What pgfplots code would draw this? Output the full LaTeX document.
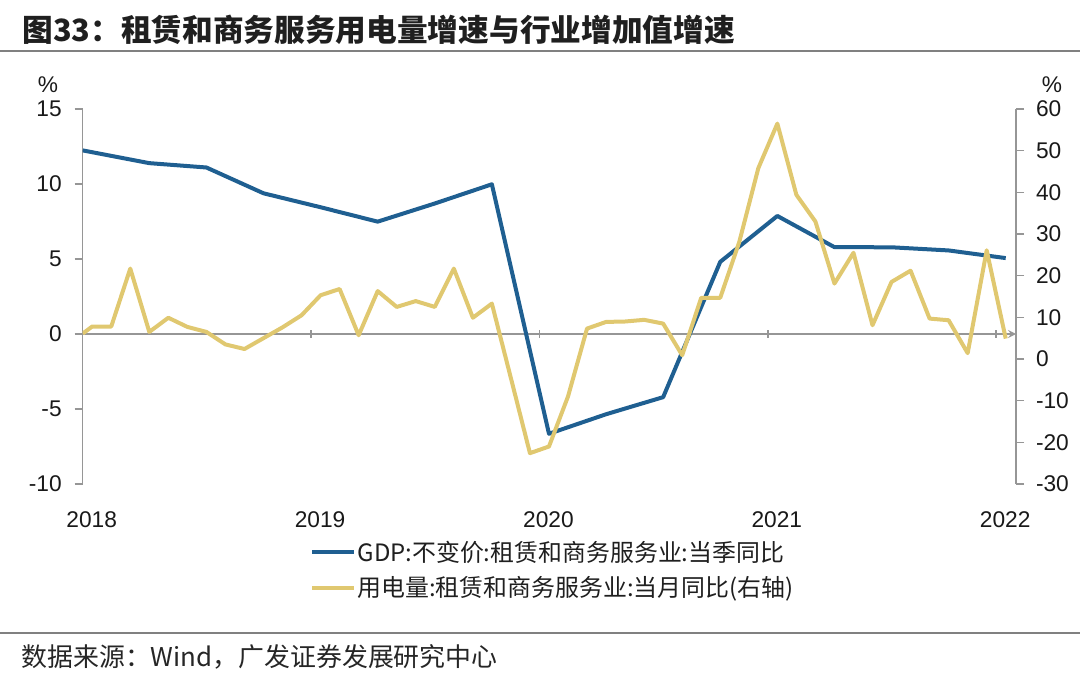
\documentclass[border=0pt]{standalone}
\usepackage{fontspec}
\setmainfont{Liberation Sans}
\newfontfamily\cjk{Noto Sans CJK SC}
\usepackage{pgfplots}
\pgfplotsset{compat=1.18}

\definecolor{gdpblue}{RGB}{31,95,145}
\definecolor{elecyel}{RGB}{224,200,112}
\definecolor{axgray}{RGB}{150,150,150}
\definecolor{rulegray}{RGB}{128,128,128}

% GDP, quarterly (months from Jan 2018)
\pgfplotstableread{
m v
0 12.24
3.5 11.39
6.5 11.10
9.5 9.38
12.5 8.45
15.5 7.49
18.5 8.70
21.5 9.98
24.5 -6.65
27.5 -5.35
30.5 -4.21
33.5 4.81
36.5 7.87
39.5 5.79
42.5 5.78
45.5 5.57
48.5 5.06
}\gdp

% electricity use, monthly
\pgfplotstableread{
m v
0 6.1
0.5 7.8
1.5 7.8
2.5 21.7
3.5 6.5
4.5 9.9
5.5 7.7
6.5 6.5
7.5 3.5
8.5 2.4
9.5 5.0
10.5 7.6
11.5 10.5
12.5 15.3
13.5 16.8
14.5 5.7
15.5 16.3
16.5 12.5
17.5 13.9
18.5 12.5
19.5 21.7
20.5 9.9
21.5 13.3
22.5 -4.6
23.5 -22.6
24.5 -21.0
25.5 -9.0
26.5 7.3
27.5 8.9
28.5 9.0
29.5 9.4
30.5 8.5
31.5 0.9
32.5 14.7
33.5 14.7
34.5 28.1
35.5 45.8
36.5 56.5
37.5 39.4
38.5 33.0
39.5 18.1
40.5 25.5
41.5 8.1
42.5 18.5
43.5 21.2
44.5 9.7
45.5 9.3
46.5 1.4
47.5 26.1
48.5 4.9
}\elec

\pgfplotsset{
  base/.style={
    scale only axis, width=466.65bp, height=187.5bp,
    at={(41.35bp,97bp)}, anchor=south west,
    xmin=0, xmax=49.04,
    xtick={0,12,24,36,48},
    axis line style={axgray, line width=0.75bp},
    every inner x axis line/.append style={-},
    every outer y axis line/.append style={-},
    tick style={axgray, line width=0.75bp},
    major tick length=4bp,
    tick align=outside,
    ticklabel style={font=\fontsize{11.4}{13}\selectfont, text=black!90},
    /pgf/number format/assume math mode=true,
  }
}

\begin{document}
\begin{tikzpicture}
\path[use as bounding box] (0,0) rectangle (540bp,339bp);

\node[anchor=west, inner sep=0pt, text=black!88] at (11bp,324bp)
  {\fontsize{15.4}{18}\cjk\bfseries 图33：租赁和商务服务用电量增速与行业增加值增速};
\draw[rulegray, line width=1.25bp] (0,313.5bp) -- (540bp,313.5bp);
\draw[rulegray, line width=1bp] (0,22.5bp) -- (540bp,22.5bp);
\node[anchor=west, inner sep=0pt, text=black!85] at (10.5bp,10.5bp)
  {\fontsize{13}{15}\cjk 数据来源：Wind，广发证券发展研究中心};

\node[inner sep=0pt, text=black!90] at (24bp,296.5bp) {\fontsize{11.4}{13}\selectfont\%};
\node[inner sep=0pt, text=black!90] at (526bp,296.5bp) {\fontsize{11.4}{13}\selectfont\%};

\begin{axis}[base,
  ymin=-10, ymax=15, ytick={-10,-5,...,15},
  axis y line*=left,
  axis x line=middle,
  xticklabels={},
  yticklabel style={xshift=-3bp},
]
\addplot[gdpblue, line width=2bp, line join=round] table[x=m, y=v] {\gdp};
\end{axis}

\begin{axis}[base,
  ymin=-30, ymax=60, ytick={-30,-20,...,60},
  axis y line*=right,
  axis x line*=bottom,
  x axis line style={draw=none},
  xtick style={draw=none},
  xticklabels={2018,2019,2020,2021,2022},
  xticklabel style={anchor=center, yshift=-13.85bp, xshift=4.5bp},
  yticklabel style={xshift=2.5bp},
  legend style={at={(0.2435,-0.2293)}, anchor=west, draw=none, fill=none,
    inner sep=0pt, row sep=4.8bp, font=\fontsize{12}{14}\cjk,
    nodes={inner sep=0.6bp, text=black!88}},
  legend cell align=left,
  legend image code/.code={\draw[#1] (0bp,0bp) -- (21bp,0bp);},
]
\addlegendimage{gdpblue, line width=2bp}
\addlegendentry{GDP:不变价:租赁和商务服务业:当季同比}
\addplot[elecyel, line width=2bp, line join=round] table[x=m, y=v] {\elec};
\addlegendentry{用电量:租赁和商务服务业:当月同比(右轴)}
\end{axis}
\end{tikzpicture}
\end{document}
